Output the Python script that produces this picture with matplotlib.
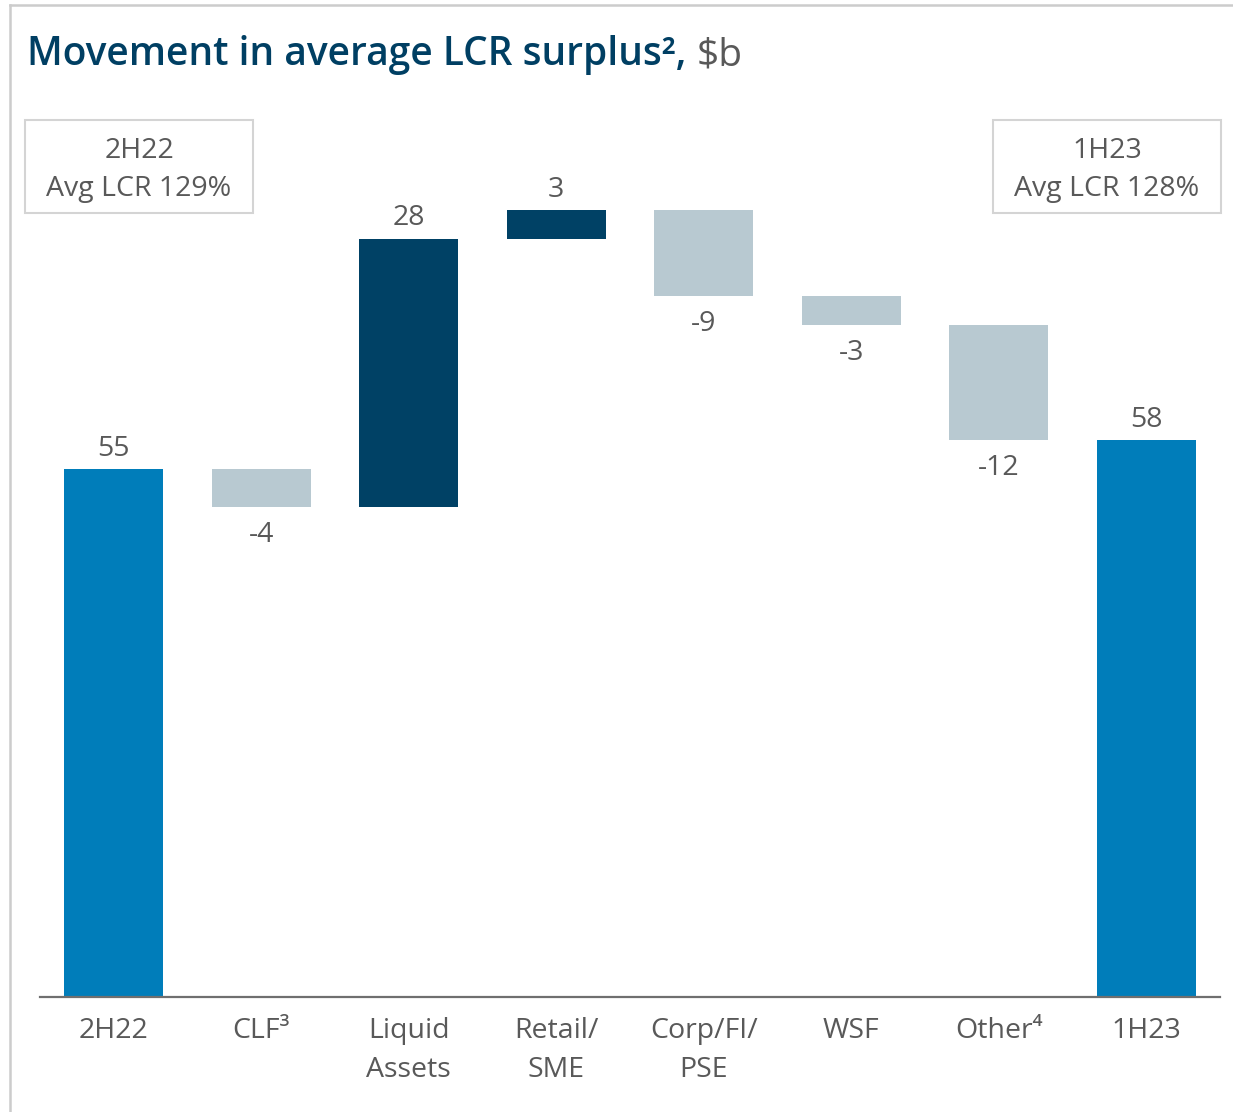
import numpy as np
from matplotlib import pyplot as plt
from matplotlib.lines import Line2D
from matplotlib.patches import Rectangle

# Waterfall data, $b #
categories = ['2H22', 'CLF³', 'Liquid\nAssets', 'Retail/\nSME', 'Corp/FI/\nPSE', 'WSF', 'Other⁴', '1H23']
start_value = 55
movements = [-4, 28, 3, -9, -3, -12]
end_value = 58
period_notes = ['2H22\nAvg LCR 129%', '1H23\nAvg LCR 128%']

TOTAL_COLOR = '#007DBA'
UP_COLOR = '#004165'
DOWN_COLOR = '#B8C9D1'
TEXT_COLOR = '#595959'
TITLE_COLOR = '#003F63'
FS = 20.5

plt.rcParams['font.family'] = ['Open Sans', 'DejaVu Sans']

W, H = 1233, 1112
fig = plt.figure(figsize=(W / 100, H / 100), dpi=100)
ax = fig.add_axes([40 / W, 1 - 997 / H, (1220 - 40) / W, (997 - 133) / H])

# Cumulative positions for floating bars #
x = np.arange(len(categories))
levels = np.concatenate([[start_value], start_value + np.cumsum(movements)])
bottoms = [0]
heights = [start_value]
colors = [TOTAL_COLOR]
for i, m in enumerate(movements):
    bottoms.append(min(levels[i], levels[i + 1]))
    heights.append(abs(m))
    colors.append(UP_COLOR if m > 0 else DOWN_COLOR)
bottoms.append(0)
heights.append(end_value)
colors.append(TOTAL_COLOR)

ax.bar(x, heights, bottom=bottoms, width=0.67, color=colors, zorder=2)

# Value labels: above for increases/totals, below for decreases #
values = [start_value] + movements + [end_value]
for xi, v, b, h in zip(x, values, bottoms, heights):
    if v >= 0:
        ax.annotate(f'{v}', (xi, b + h), xytext=(0, 4.5), textcoords='offset points',
                    ha='center', va='bottom', fontsize=FS, color=TEXT_COLOR)
    else:
        ax.annotate(f'{v}', (xi, b), xytext=(0, -10), textcoords='offset points',
                    ha='center', va='top', fontsize=FS, color=TEXT_COLOR)

ax.set_xlim(-0.5, len(categories) - 0.5)
ax.set_ylim(0, 90)
ax.set_xticks(x)
ax.set_xticklabels(categories, fontsize=FS, color=TEXT_COLOR, linespacing=1.5)
ax.tick_params(axis='x', length=0, pad=14.5)
ax.set_yticks([])
for s in ['top', 'right', 'left']:
    ax.spines[s].set_visible(False)
ax.spines['bottom'].set_color('#6f6f6f')
ax.spines['bottom'].set_linewidth(1.6)

# Period boxes #
for note, xc in zip(period_notes, [139, 1107]):
    fig.text(xc / W, 1 - 170 / H, note, ha='center', va='center', fontsize=FS,
             color=TEXT_COLOR, linespacing=1.5)
for x0 in [25, 993]:
    fig.add_artist(Rectangle((x0 / W, 1 - 213 / H), 228 / W, 93 / H, transform=fig.transFigure,
                             fill=False, edgecolor='#d4d4d4', linewidth=1.5))

# Title in two colours #
t1 = fig.text(27 / W, 1 - 55 / H, 'Movement in average LCR surplus², ', ha='left', va='center',
              fontsize=28, fontweight='semibold', color=TITLE_COLOR)
fig.canvas.draw()
bb = t1.get_window_extent()
fig.text(bb.x1 / W, 1 - 55 / H, '$b', ha='left', va='center', fontsize=28, color=TEXT_COLOR)

# Panel border, top and left #
fig.add_artist(Line2D([10 / W, 1], [1 - 5 / H, 1 - 5 / H], transform=fig.transFigure,
                      color='#cccccc', linewidth=1.8))
fig.add_artist(Line2D([10 / W, 10 / W], [0, 1 - 5 / H], transform=fig.transFigure,
                      color='#cccccc', linewidth=1.8))

fig.savefig('out.png', dpi=100)
